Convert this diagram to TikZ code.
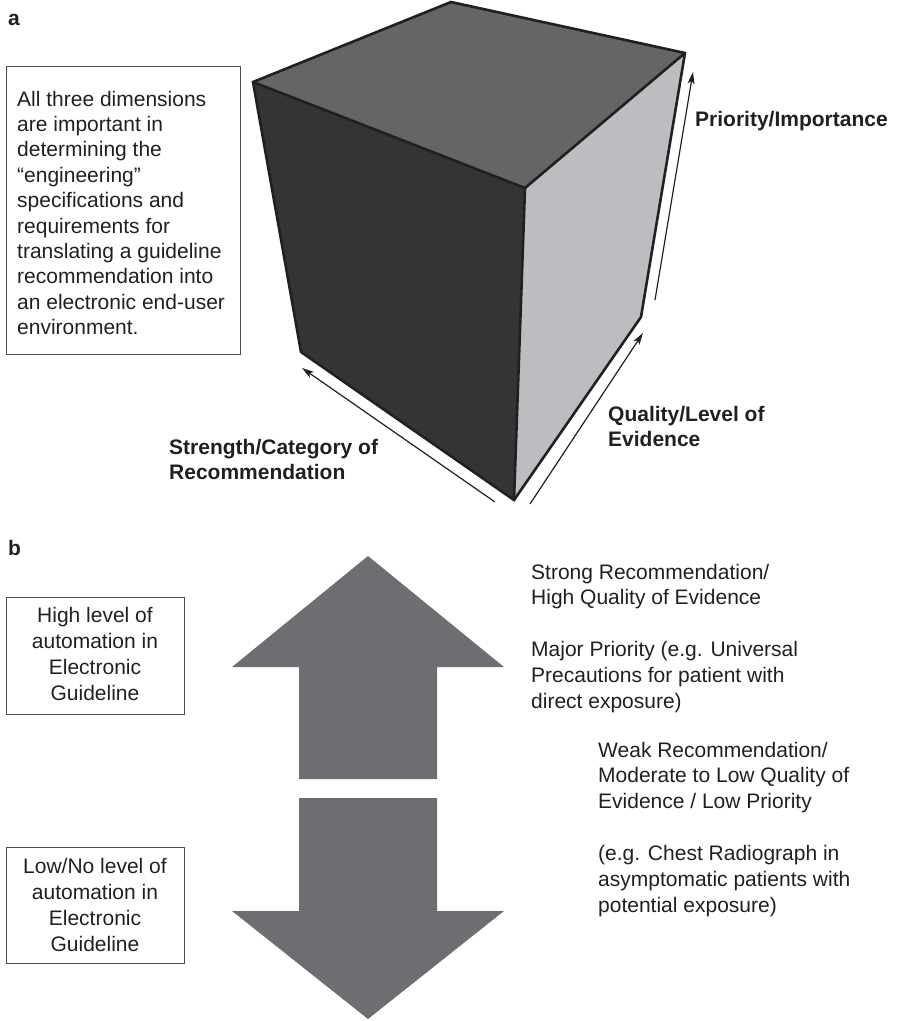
\documentclass[tikz,border=0pt]{standalone}
\usepackage{fontspec}
\setmainfont{Liberation Sans}
\usetikzlibrary{arrows.meta}

\definecolor{edgeink}{HTML}{231F20}
\definecolor{topface}{HTML}{646665}
\definecolor{frontface}{HTML}{343434}
\definecolor{sideface}{HTML}{BCBDC0}
\definecolor{blockgray}{HTML}{6D6E71}

\tikzset{
  body/.style={font=\fontsize{21}{25.4}\selectfont, inner sep=0pt, text=edgeink},
  bodywide/.style={body, font=\fontsize{21}{25.9}\selectfont},
  heading/.style={body, font=\fontsize{21}{25.4}\selectfont\bfseries},
  cubeedge/.style={draw=edgeink, line width=2.6pt, line join=miter},
  axisarrow/.style={draw=edgeink, line width=1.2pt, -{Stealth[length=12pt, width=7pt, inset=3pt]}},
  infobox/.style={draw=edgeink!80, line width=1pt},
  blockarrow/.style={fill=blockgray, draw=none}
}

\begin{document}
\begin{tikzpicture}[x=1pt, y=-1pt]
\useasboundingbox (0,0) rectangle (897,1021);

% ---------- panel a: the cube ----------
\coordinate (back)  at (451,2);
\coordinate (ltop)  at (253,82);
\coordinate (rtop)  at (685,53);
\coordinate (ftop)  at (525,188);
\coordinate (lbot)  at (301,352);
\coordinate (fbot)  at (514,500);
\coordinate (rbot)  at (641,317);

\fill[topface]   (back) -- (rtop) -- (ftop) -- (ltop) -- cycle;
\fill[frontface] (ltop) -- (ftop) -- (fbot) -- (lbot) -- cycle;
\fill[sideface]  (ftop) -- (rtop) -- (rbot) -- (fbot) -- cycle;
\draw[cubeedge] (back) -- (rtop) -- (rbot) -- (fbot) -- (lbot) -- (ltop) -- cycle;
\draw[cubeedge] (ltop) -- (ftop) -- (rtop);
\draw[cubeedge] (ftop) -- (fbot);

% axis arrows along the cube
\coordinate (pstart) at (655,300);
\coordinate (pend)   at (693,72);
\coordinate (qstart) at (530,504);
\coordinate (qend)   at (643,333);
\coordinate (sstart) at (495,502);
\coordinate (send)   at (302,368);
\draw[axisarrow] (pstart) -- (pend);
\draw[axisarrow] (qstart) -- (qend);
\draw[axisarrow] (sstart) -- (send);

% multi-line nodes are placed by the baseline of their last line
\node[heading, anchor=base west] (labela) at (8,25) {a};
\node[heading, anchor=base west] (prio) at (695,126) {Priority/Importance};
\node[heading, anchor=base west, align=left] (qual) at (608,446.4) {Quality/Level of\\Evidence};
\node[heading, anchor=base west, align=left] (stren) at (169,479.4) {Strength/Category of\\Recommendation};

\draw[infobox] (6,66) rectangle (240,354);
\node[body, anchor=base west, align=left] (dims) at (17,334.6)
  {All three dimensions\\are important in\\determining the\\“engineering”\\specifications and\\requirements for\\translating a guideline\\recommendation into\\an electronic end-user\\environment.};

% ---------- panel b: block arrows ----------
\node[heading, anchor=base west] (labelb) at (8,555) {b};

\fill[blockarrow] (368,556) -- (504,667) -- (437,667) -- (437,779)
  -- (299,779) -- (299,667) -- (232,667) -- cycle;
\fill[blockarrow] (299,798) -- (437,798) -- (437,911) -- (504,911)
  -- (368,1019) -- (232,911) -- (299,911) -- cycle;

\draw[infobox] (6,597) rectangle (184,714);
\node[bodywide, anchor=base, align=center] (high) at (95,700)
  {High level of\\automation in\\Electronic\\Guideline};

\draw[infobox] (6,847) rectangle (184,963);
\node[bodywide, anchor=base, align=center] (low) at (95,951.5)
  {Low/No level of\\automation in\\Electronic\\Guideline};

\node[bodywide, anchor=base west, align=left] (strong) at (531,708.5)
  {Strong Recommendation/\\High Quality of Evidence\\[25.9pt]Major Priority (e.g. Universal\\Precautions for patient with\\direct exposure)};

\node[bodywide, anchor=base west, align=left] (weak) at (598,912.4)
  {Weak Recommendation/\\Moderate to Low Quality of\\Evidence / Low Priority\\[25.9pt](e.g. Chest Radiograph in\\asymptomatic patients with\\potential exposure)};
\end{tikzpicture}
\end{document}
